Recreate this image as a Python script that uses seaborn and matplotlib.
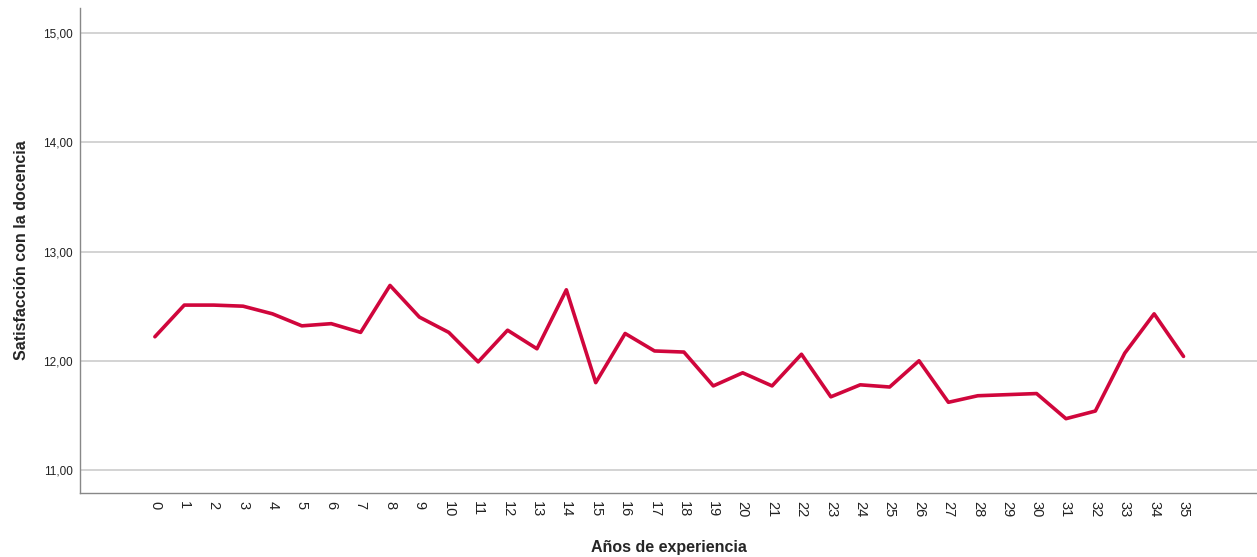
import matplotlib
matplotlib.use("Agg")
import matplotlib.pyplot as plt
import seaborn as sns
import pandas as pd
from matplotlib.ticker import FuncFormatter

years = list(range(0, 36))
satisfaction = [12.22, 12.51, 12.51, 12.50, 12.43, 12.32, 12.34, 12.26, 12.69, 12.40,
                12.26, 11.99, 12.28, 12.11, 12.65, 11.80, 12.25, 12.09, 12.08, 11.77,
                11.89, 11.77, 12.06, 11.67, 11.78, 11.76, 12.00, 11.62, 11.68, 11.69,
                11.70, 11.47, 11.54, 12.07, 12.43, 12.04]
y_ticks = [11, 12, 13, 14, 15]

df = pd.DataFrame({"Años de experiencia": years, "Satisfacción con la docencia": satisfaction})

sns.set_style("white")
plt.rcParams['font.family'] = ['Liberation Sans', 'DejaVu Sans']

fig = plt.figure(figsize=(12.57, 5.57), dpi=100)
ax = fig.add_axes([0.0636, 0.115, 0.9364, 0.8706])

for v in y_ticks:
    ax.axhline(v, color="#cccccc", linewidth=1.2, zorder=0)

sns.lineplot(data=df, x="Años de experiencia", y="Satisfacción con la docencia",
             color="#D0063C", linewidth=2.6, ax=ax)

ax.set_xlim(-2.55, 37.5)
ax.set_ylim(10.79, 15.23)
ax.set_yticks(y_ticks)
ax.yaxis.set_major_formatter(FuncFormatter(lambda v, p: f"{v:.2f}".replace(".", ",")))
ax.set_xticks(years)
ax.set_xticklabels([str(y) for y in years], rotation=-90, fontsize=10.5, color="#222222")
for lbl in ax.get_xticklabels():
    lbl.set_x(lbl.get_position()[0])
ax.tick_params(axis="y", labelsize=8.5, length=0, pad=5, colors="#222222")
ax.tick_params(axis="x", length=0, pad=6)

for s in ["top", "right"]:
    ax.spines[s].set_visible(False)
for s in ["left", "bottom"]:
    ax.spines[s].set_color("#888888")
    ax.spines[s].set_linewidth(1.0)

ax.set_xlabel("Años de experiencia", fontsize=11.5, fontweight="bold", labelpad=16)
ax.set_ylabel("Satisfacción con la docencia", fontsize=11.5, fontweight="bold", labelpad=10)

fig.savefig("out.png", dpi=100)
